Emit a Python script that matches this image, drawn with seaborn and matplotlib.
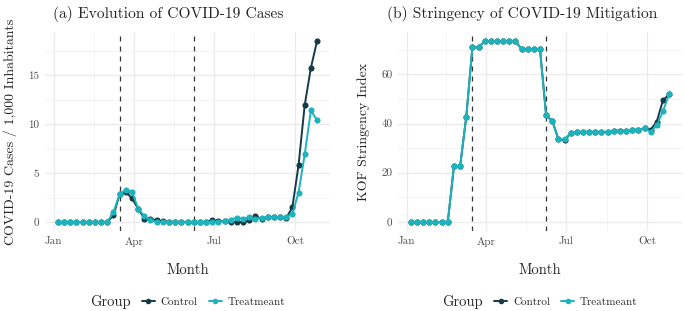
import numpy as np
import pandas as pd
import matplotlib
matplotlib.use("Agg")
import matplotlib.pyplot as plt
from matplotlib.lines import Line2D
from matplotlib.offsetbox import HPacker
import seaborn as sns

# ---- data (weekly, starting 2020-01-06) ----
weeks = pd.date_range("2020-01-06", periods=43, freq="7D")

cases_control = [0, 0, 0, 0, 0, 0, 0, 0, 0, 0.68, 2.84, 3.1, 2.4, 1.37, 0.34, 0.34, 0.17,
                 0.05, 0.03, 0.02, 0.02, 0.01, 0.01, 0.01, 0.02, 0.17, 0.1, 0.05, 0.02, 0.0,
                 0.0, 0.17, 0.58, 0.34, 0.5, 0.5, 0.5, 0.4, 1.5, 5.8, 11.95, 15.75, 18.5]
cases_treat = [0, 0, 0, 0, 0, 0, 0, 0, 0, 1.0, 2.84, 3.3, 3.1, 1.37, 0.6, 0.17, 0.0,
               0.0, 0.0, 0.0, 0.0, 0.0, 0.0, 0.0, 0.0, 0.0, 0.0, 0.1, 0.24, 0.45, 0.3, 0.5,
               0.27, 0.45, 0.5, 0.5, 0.5, 0.5, 0.85, 3.0, 6.9, 11.4, 10.4]

string_control = [0, 0, 0, 0, 0, 0, 0, 22.6, 22.6, 42.6, 70.9, 70.9, 73.5, 73.5, 73.5, 73.5,
                  73.5, 73.5, 70.2, 70.2, 70.2, 70.2, 43.3, 41.1, 33.5, 33.3, 36.0, 36.5, 36.5,
                  36.5, 36.5, 36.5, 36.6, 37.1, 37.1, 37.1, 37.5, 37.5, 38.0, 37.5, 40.8, 49.4, 51.8]
string_treat = [0, 0, 0, 0, 0, 0, 0, 22.6, 22.6, 42.6, 70.9, 70.9, 73.5, 73.5, 73.5, 73.5,
                73.5, 73.5, 70.2, 70.2, 70.2, 70.2, 43.3, 41.1, 33.5, 33.5, 36.2, 36.7, 36.7,
                36.7, 36.7, 36.7, 36.7, 37.1, 37.1, 37.1, 37.5, 37.5, 38.0, 36.7, 39.2, 45.0, 51.8]

groups = ["Control", "Treatmeant"]
event_dates = ["2020-03-16", "2020-06-08"]
month_ticks = ["2020-01-01", "2020-04-01", "2020-07-01", "2020-10-01"]
month_labels = ["Jan", "Apr", "Jul", "Oct"]

df_cases = pd.DataFrame({
    "date": list(weeks) * 2,
    "value": cases_control + cases_treat,
    "Group": [groups[0]] * 43 + [groups[1]] * 43,
})
df_str = pd.DataFrame({
    "date": list(weeks) * 2,
    "value": string_control + string_treat,
    "Group": [groups[0]] * 43 + [groups[1]] * 43,
})

palette = {"Control": "#163a47", "Treatmeant": "#1db3bd"}

sns.set_theme(style="white")
plt.rcParams["font.family"] = ["cmr10", "DejaVu Serif"]
plt.rcParams["axes.formatter.use_mathtext"] = True
plt.rcParams["mathtext.fontset"] = "cm"

fig = plt.figure(figsize=(6.85, 3.11), dpi=100)
W, H = 685, 311


def add_ax(x0, x1, y0, y1):
    return fig.add_axes([x0 / W, 1 - y1 / H, (x1 - x0) / W, (y1 - y0) / H])


ax1 = add_ax(45, 330, 32, 231)
ax2 = add_ax(398, 682, 32, 231)

tick_dates = pd.to_datetime(month_ticks)
minor_dates = [tick_dates[i] + (tick_dates[i + 1] - tick_dates[i]) / 2 for i in range(3)]


def style(ax, df, yticks, yminor, ylabel, title, title_x):
    sns.lineplot(data=df, x="date", y="value", hue="Group", palette=palette, ax=ax,
                 marker="o", markersize=4.4, markeredgewidth=0, linewidth=1.4,
                 legend=False, zorder=3)
    for d in event_dates:
        ax.axvline(pd.Timestamp(d), color="#333333", linestyle=(0, (4, 4)), linewidth=0.9, zorder=2)
    ax.set_xticks(tick_dates)
    ax.set_xticklabels(month_labels)
    ax.set_xticks(minor_dates, minor=True)
    ax.set_yticks(yticks)
    ax.set_yticklabels([str(v) for v in yticks])
    ax.set_yticks(yminor, minor=True)
    ax.grid(which="major", color="#ebebeb", linewidth=1.0, zorder=0)
    ax.grid(which="minor", color="#f2f2f2", linewidth=0.6, zorder=0)
    ax.set_axisbelow(True)
    for s in ax.spines.values():
        s.set_visible(False)
    ax.tick_params(which="both", length=0, labelsize=8, colors="#4d4d4d", pad=4)
    ax.set_xlabel("Month", fontsize=10.5, labelpad=12)
    ax.set_ylabel(ylabel, fontsize=10, labelpad=8)
    fig.text(title_x / W, 1 - 14 / H, title, fontsize=11.2, ha="center", va="center")
    ax.margins(x=0.05, y=0.05)


style(ax1, df_cases, [0, 5, 10, 15], [2.5, 7.5, 12.5, 17.5],
      "COVID-19 Cases / 1,000 Inhabitants", "(a) Evolution of COVID-19 Cases", 168)
style(ax2, df_str, [0, 20, 40, 60], [10, 30, 50, 70],
      "KOF Stringency Index", "(b) Stringency of COVID-19 Mitigation", 522)

handles = [Line2D([0], [0], color=palette[g], marker="o", markersize=4, linewidth=1.4,
                  markeredgewidth=0) for g in groups]
for ax in (ax1, ax2):
    leg = ax.legend(handles, groups, title="Group", loc="center",
                    bbox_to_anchor=(0.5, -0.357), ncol=2, frameon=False,
                    fontsize=8, title_fontsize=10.5, handlelength=1.2,
                    handletextpad=0.5, columnspacing=1.0, borderaxespad=0)
    title_box = leg._legend_title_box
    entries = leg._legend_handle_box
    leg._legend_box._children = [HPacker(pad=0, sep=8, align="center",
                                         children=[title_box, entries])]

fig.savefig("out.png", dpi=100)
